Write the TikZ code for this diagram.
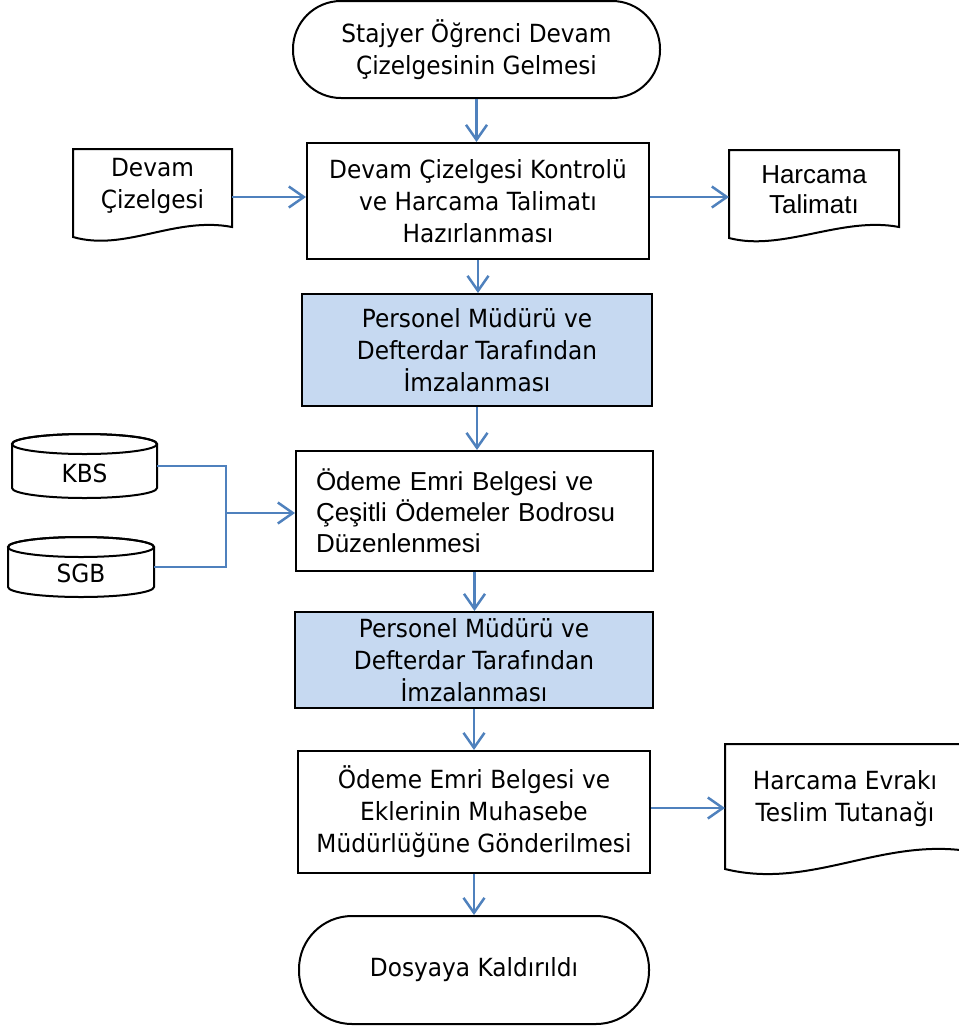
\documentclass[tikz,border=0pt]{standalone}
\usepackage{fontspec}
\setmainfont{Liberation Sans}
\newfontfamily\tah[FakeStretch=0.93]{DejaVu Sans}
\usetikzlibrary{arrows.meta}
\definecolor{arrblue}{HTML}{4F81BD}
\definecolor{fillblue}{HTML}{C6D9F1}
\begin{document}
\begin{tikzpicture}[x=1pt,y=-1pt,
  box/.style={draw=black, line width=2pt, rectangle, align=center, inner sep=0pt},
  shade/.style={box, fill=fillblue},
  shapeline/.style={draw=black, line width=2pt, fill=white},
  arr/.style={draw=arrblue, line width=2.5pt, -{Straight Barb[length=15pt,width=21pt,line width=2.5pt]}},
  conn/.style={draw=arrblue, line width=2.5pt},
  tahtxt/.style={font=\tah\fontsize{25}{32}\selectfont},
  arialtxt/.style={font=\fontsize{26}{31}\selectfont},
  plain/.style={inner sep=0pt, align=center}]
\useasboundingbox (0,0) rectangle (959,1029);

% terminals and process boxes
\node[box, tahtxt, minimum width=367pt, minimum height=97pt, rounded corners=48pt] (start) at (476.5,49.5) {Stajyer Öğrenci Devam\\Çizelgesinin Gelmesi};
\node[box, tahtxt, minimum width=342pt, minimum height=116pt] (ctrl) at (478,201) {Devam Çizelgesi Kontrolü\\ve Harcama Talimatı\\Hazırlanması};
\node[shade, tahtxt, minimum width=350pt, minimum height=112pt] (sign1) at (477,350) {Personel Müdürü ve\\Defterdar Tarafından\\İmzalanması};
\node[box, arialtxt, text width=317pt, inner xsep=20pt, align=left, minimum height=120pt] (box4) at (474.5,511) {Ödeme Emri Belgesi ve\\Çeşitli Ödemeler Bodrosu\\Düzenlenmesi};
\node[shade, tahtxt, minimum width=358pt, minimum height=96pt] (sign2) at (474,660) {Personel Müdürü ve\\Defterdar Tarafından\\İmzalanması};
\node[box, tahtxt, minimum width=352pt, minimum height=122pt] (box6) at (474,812) {Ödeme Emri Belgesi ve\\Eklerinin Muhasebe\\Müdürlüğüne Gönderilmesi};
\node[box, tahtxt, minimum width=350pt, minimum height=108pt, rounded corners=53pt] (end) at (474,970) {Dosyaya Kaldırıldı};

% document shapes
\draw[shapeline] (73,149) -- (232,149) -- (232,227) .. controls (175,216) and (125,252) .. (73,237) -- cycle;
\node[plain, tahtxt] (devam) at (152.5,186) {Devam\\Çizelgesi};
\draw[shapeline] (729,150) -- (899,150) -- (899,227) .. controls (842,216) and (782,252) .. (729,238) -- cycle;
\node[plain, arialtxt, font=\fontsize{26}{30}\selectfont] (talimat) at (814,190) {Harcama\\Talimatı};
\draw[shapeline] (725,744) -- (968,744) -- (968,851) .. controls (880,838) and (810,890) .. (725,869) -- cycle;
\node[plain, tahtxt] (evrak) at (845,799) {Harcama Evrakı\\Teslim Tutanağı};

% cylinders
\draw[shapeline] (12,444) -- (12,488) arc[start angle=180, end angle=360, x radius=72.5pt, y radius=10pt] -- (157,444) arc[start angle=0, end angle=180, x radius=72.5pt, y radius=10pt] -- cycle;
\draw[line width=2pt] (84.5,444) ellipse [x radius=72.5pt, y radius=10pt];
\node[plain, tahtxt] (kbs) at (84.5,473) {KBS};
\draw[shapeline] (8,547) -- (8,587) arc[start angle=180, end angle=360, x radius=73pt, y radius=10pt] -- (154,547) arc[start angle=0, end angle=180, x radius=73pt, y radius=10pt] -- cycle;
\draw[line width=2pt] (81,547) ellipse [x radius=73pt, y radius=10pt];
\node[plain, tahtxt] (sgb) at (81,573) {SGB};

% vertical flow
\draw[arr] (start.south) -- (start.south |- ctrl.north);
\draw[arr] (ctrl.south) -- (ctrl.south |- sign1.north);
\draw[arr] (sign1.south) -- (sign1.south |- box4.north);
\draw[arr] (box4.south) -- (box4.south |- sign2.north);
\draw[arr] (sign2.south) -- (sign2.south |- box6.north);
\draw[arr] (box6.south) -- (box6.south |- end.north);

% side connectors
\coordinate (devout) at (232,197);
\draw[arr] (devout) -- (devout -| ctrl.west);
\coordinate (talin) at (729,197);
\draw[arr] (talin -| ctrl.east) -- (talin);
\coordinate (evrin) at (725,808);
\draw[arr] (evrin -| box6.east) -- (evrin);
\coordinate (kbsout) at (157,466);
\coordinate (sgbout) at (154,567);
\coordinate (jn) at (226,513);
\draw[conn] (kbsout) -| (jn);
\draw[conn] (sgbout) -| (jn);
\draw[arr] (jn) -- (jn -| box4.west);
\end{tikzpicture}
\end{document}
